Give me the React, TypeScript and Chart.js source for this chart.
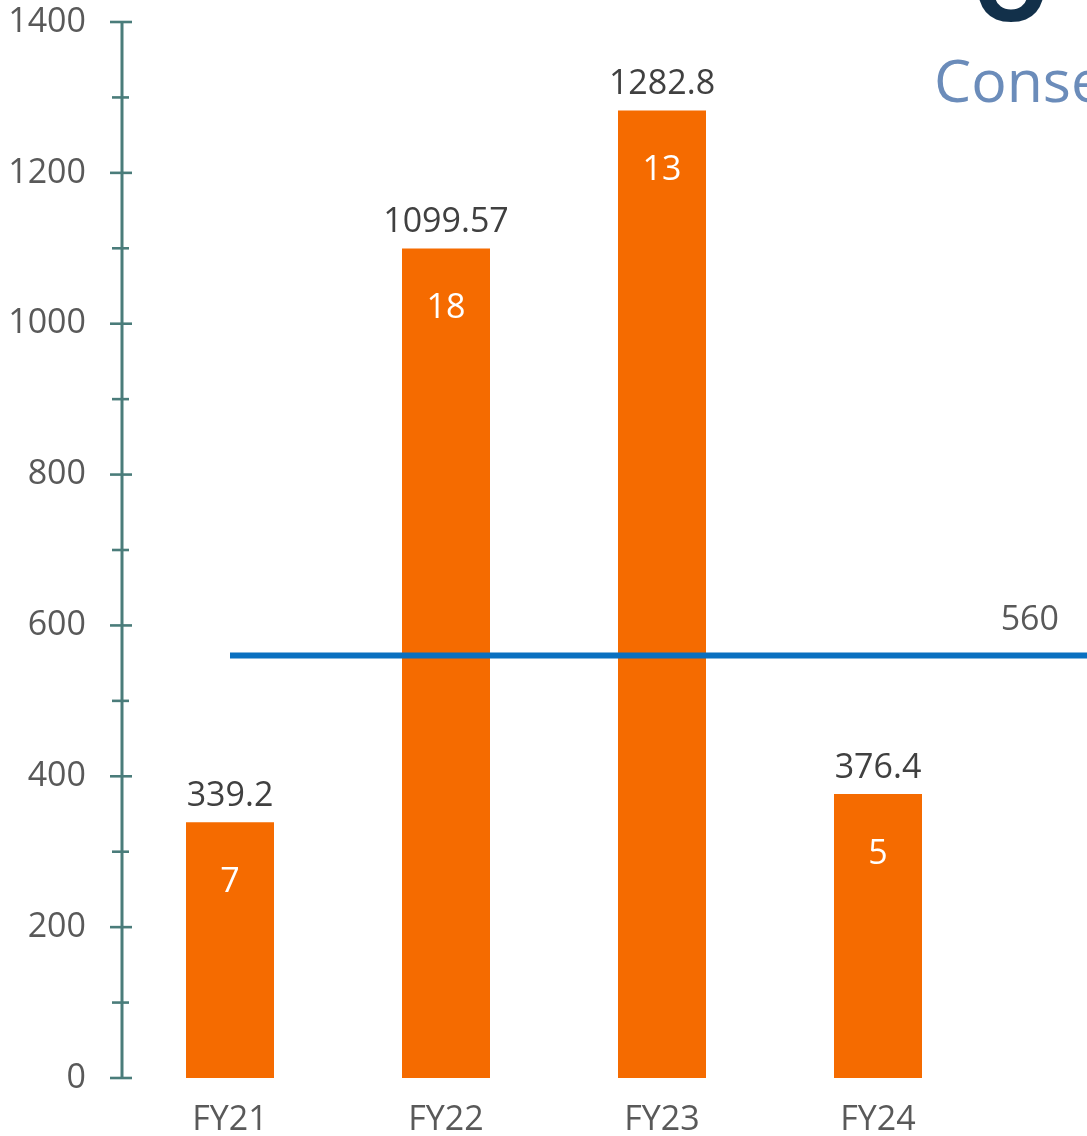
import React, { useEffect, useRef } from "react";
import { Chart, registerables } from "chart.js";

Chart.register(...registerables);

// ---- data ----
const categories = ["FY21", "FY22", "FY23", "FY24", ""];
const amountValues: (number | null)[] = [339.2, 1099.57, 1282.8, 376.4, null];
const countValues: (number | null)[] = [7, 18, 13, 5, null];
const referenceValues = [560, 560, 560, 560, 560];
const yMin = 0;
const yMax = 1400;
const yMajorStep = 200;
const yMinorStep = 100;
const headingText = "Conse";
const headingGlyph = "O";

// ---- styles ----
const FONT = '"Open Sans", "Noto Sans", sans-serif';
const BAR_COLOR = "#F56B00";
const LINE_COLOR = "#0A70C0";
const AXIS_COLOR = "#4A7C7A";
const TICK_COLOR = "#595959";
const LABEL_COLOR = "#404040";
const FONT_SIZE = 34;
const CANVAS_W = 1202;
const CANVAS_H = 1200;
const AXIS_X = 122;
const AXIS_BOTTOM = 1078;

const axisPlugin = {
  id: "excelAxis",
  beforeDatasetsDraw(chart: any) {
    const y = chart.scales.y;
    const x0 = chart.chartArea.left;
    const ctx = chart.ctx;
    ctx.save();
    ctx.strokeStyle = AXIS_COLOR;
    ctx.lineWidth = 3;
    ctx.beginPath();
    ctx.moveTo(x0, y.getPixelForValue(yMax) - 1);
    ctx.lineTo(x0, y.getPixelForValue(yMin) + 1);
    ctx.stroke();
    ctx.lineWidth = 2.6;
    for (let v = yMin; v <= yMax; v += yMinorStep) {
      const py = y.getPixelForValue(v);
      const major = v % yMajorStep === 0;
      ctx.beginPath();
      ctx.moveTo(x0 - (major ? 12 : 10), py);
      ctx.lineTo(x0 + (major ? 10 : 7), py);
      ctx.stroke();
    }
    ctx.restore();
  },
};

const labelPlugin = {
  id: "valueLabels",
  afterDatasetsDraw(chart: any) {
    const ctx = chart.ctx;
    ctx.save();
    ctx.textBaseline = "middle";
    // bar labels
    const barMeta = chart.getDatasetMeta(1);
    barMeta.data.forEach((el: any, i: number) => {
      const v = amountValues[i];
      if (v == null) return;
      ctx.font = `${FONT_SIZE}px ${FONT}`;
      ctx.textAlign = "center";
      ctx.fillStyle = LABEL_COLOR;
      ctx.fillText(String(v), el.x, el.y - 26);
      const c = countValues[i];
      if (c != null) {
        ctx.fillStyle = "#FFFFFF";
        ctx.fillText(String(c), el.x, el.y + 60);
      }
    });
    // line label on the last point
    const lineMeta = chart.getDatasetMeta(0);
    const last = lineMeta.data[lineMeta.data.length - 1];
    if (last) {
      ctx.font = `${FONT_SIZE}px ${FONT}`;
      ctx.textAlign = "right";
      ctx.fillStyle = TICK_COLOR;
      ctx.fillText(String(referenceValues[referenceValues.length - 1]), last.x - 35, last.y - 35);
    }
    ctx.restore();
  },
};

export default function App() {
  const ref = useRef<HTMLCanvasElement | null>(null);

  useEffect(() => {
    if (!ref.current) return;
    const chart = new Chart(ref.current, {
      type: "bar",
      data: {
        labels: categories,
        datasets: [
          {
            type: "line",
            label: "Reference",
            data: referenceValues,
            borderColor: LINE_COLOR,
            backgroundColor: LINE_COLOR,
            borderWidth: 6,
            pointRadius: 0,
            borderCapStyle: "butt",
            tension: 0,
            order: 0,
          } as any,
          {
            type: "bar",
            label: "Amount",
            data: amountValues,
            backgroundColor: BAR_COLOR,
            borderWidth: 0,
            categoryPercentage: 1,
            barPercentage: 88 / 216,
            order: 1,
          } as any,
        ],
      },
      options: {
        responsive: false,
        animation: false,
        layout: { autoPadding: false, padding: { top: 22, left: 0, right: 0, bottom: 0 } },
        plugins: {
          legend: { display: false },
          tooltip: { enabled: false },
          title: { display: false },
        },
        scales: {
          x: {
            type: "category",
            grid: { display: false, drawTicks: false },
            border: { display: false },
            ticks: {
              color: TICK_COLOR,
              font: { family: FONT, size: FONT_SIZE },
              padding: 22,
              maxRotation: 0,
              autoSkip: false,
            },
            afterFit(scale: any) {
              scale.height = CANVAS_H - AXIS_BOTTOM;
              scale.paddingLeft = 0;
              scale.paddingRight = 0;
            },
          },
          y: {
            min: yMin,
            max: yMax,
            grid: { display: false, drawTicks: false },
            border: { display: false },
            ticks: {
              stepSize: yMajorStep,
              color: TICK_COLOR,
              font: { family: FONT, size: FONT_SIZE },
              padding: 36,
              callback: (v: any) => String(v),
            },
            afterFit(scale: any) {
              scale.width = AXIS_X;
              scale.paddingTop = 0;
              scale.paddingBottom = 0;
            },
          },
        },
      } as any,
      plugins: [axisPlugin, labelPlugin],
    });
    return () => chart.destroy();
  }, []);

  return (
    <div
      style={{
        position: "fixed",
        left: 0,
        top: 0,
        width: 1087,
        height: 1136,
        overflow: "hidden",
        background: "#FFFFFF",
      }}
    >
      <canvas
        ref={ref}
        width={CANVAS_W}
        height={CANVAS_H}
        style={{ position: "absolute", left: 0, top: 0, width: CANVAS_W, height: CANVAS_H }}
      />
      <div
        style={{
          position: "absolute",
          left: 972,
          top: -66,
          fontFamily: FONT,
          fontWeight: 700,
          fontSize: 98,
          lineHeight: 1,
          color: "#12304A",
          whiteSpace: "nowrap",
        }}
      >
        {headingGlyph}
      </div>
      <div
        style={{
          position: "absolute",
          left: 934,
          top: 50,
          fontFamily: FONT,
          fontSize: 59,
          lineHeight: 1,
          color: "#6B8CBA",
          whiteSpace: "nowrap",
        }}
      >
        {headingText}
      </div>
    </div>
  );
}
